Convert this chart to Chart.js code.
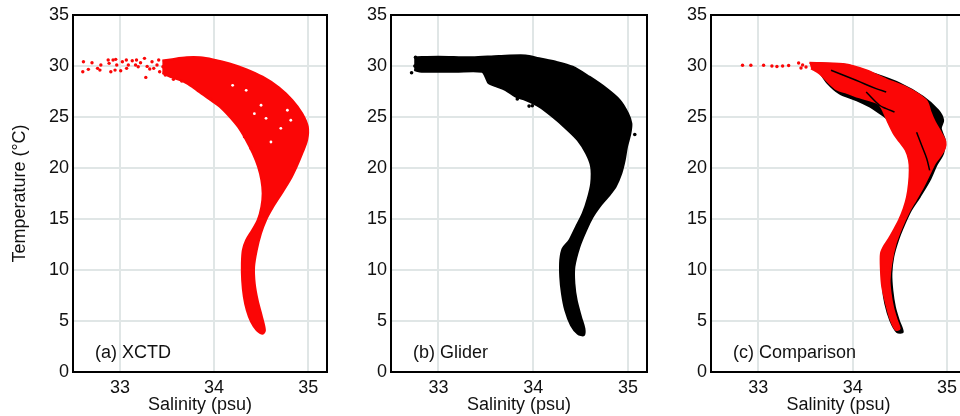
<!DOCTYPE html>
<html lang="en">
<head>
    <meta charset="UTF-8" />
    <title>T-S diagrams</title>
    <script src="https://cdn.jsdelivr.net/npm/chart.js"></script>
    <style>
        body { margin: 0; background: #fff; }
        #wrap { position: relative; width: 960px; height: 416px; overflow: hidden; }
        #wrap canvas { position: absolute; top: 0; }
    </style>
</head>
<body>
<div id="wrap">
    <canvas id="chartA" width="340" height="416" style="left:0"></canvas>
    <canvas id="chartB" width="320" height="416" style="left:340px"></canvas>
    <canvas id="chartC" width="320" height="416" style="left:660px"></canvas>
</div>

<script>
    // axis ticks
    const xTicks = [33, 34, 35];
    const yTicks = [0, 5, 10, 15, 20, 25, 30, 35];

    // (a) XCTD - outline of the dense red cloud [salinity, temperature]
    const xctdOutline = [
        [33.45, 30.55], [33.533, 30.65], [33.709, 30.85], [33.849, 30.85], [33.989, 30.65], [34.165, 30.26],
        [34.340, 29.70], [34.516, 28.95], [34.691, 27.90], [34.832, 26.66], [34.937, 25.35], [34.996, 24.04],
        [34.989, 22.73], [34.937, 21.43], [34.877, 20.12], [34.807, 18.81], [34.719, 17.50], [34.628, 16.19],
        [34.551, 14.88], [34.498, 13.58], [34.453, 11.94], [34.425, 10.30], [34.432, 8.67], [34.463, 7.03],
        [34.509, 5.40], [34.540, 4.09], [34.516, 3.76], [34.453, 4.09], [34.393, 4.91], [34.347, 6.05],
        [34.316, 7.36], [34.298, 9.00], [34.295, 10.63], [34.305, 11.94], [34.340, 12.92], [34.404, 13.90],
        [34.463, 14.88], [34.502, 16.19], [34.516, 17.50], [34.502, 18.81], [34.467, 20.12], [34.411, 21.43],
        [34.340, 22.73], [34.253, 24.04], [34.165, 25.02], [34.060, 26.01], [33.937, 26.82], [33.814, 27.64],
        [33.709, 28.30], [33.604, 28.72], [33.533, 28.95], [33.45, 29.3]
    ];
    // (a) XCTD - scattered casts outside the cloud
    const xctdPoints = [
        [32.611, 30.42], [32.604, 29.44], [32.702, 30.32], [32.663, 29.67], [32.761, 29.77], [32.786, 29.60],
        [32.796, 30.10], [32.874, 30.59], [32.884, 30.26], [32.902, 29.44], [32.926, 30.59], [32.954, 30.65],
        [32.965, 30.10], [32.947, 29.60], [33.007, 29.54], [33.025, 30.42], [33.067, 30.59], [33.070, 29.77],
        [33.088, 30.10], [33.130, 30.52], [33.165, 30.10], [33.175, 30.59], [33.193, 29.93], [33.218, 30.32],
        [33.260, 30.75], [33.274, 28.88], [33.288, 29.96], [33.316, 29.70], [33.340, 30.42], [33.358, 29.77],
        [33.393, 30.10], [33.411, 30.59], [33.421, 29.44], [33.456, 29.93], [33.481, 29.11], [33.568, 28.69],
        [33.656, 28.52], [33.961, 26.79], [34.323, 23.06], [34.393, 21.92]
    ];
    // (a) XCTD - small empty gaps inside the cloud
    const xctdGaps = [
        [34.341, 27.62], [34.499, 26.15], [34.428, 25.33], [34.779, 25.66], [34.815, 24.68], [34.709, 23.89],
        [34.604, 22.55], [34.552, 24.87], [34.197, 28.11]
    ];

    // (b) Glider
    const gliderOutline = [
        [32.745, 30.85], [33.000, 30.91], [33.354, 30.85], [33.637, 30.98], [33.920, 31.04], [34.062, 30.75],
        [34.239, 30.42], [34.416, 29.93], [34.593, 28.95], [34.770, 27.81], [34.912, 26.66], [35.000, 25.35],
        [35.035, 24.37], [35.025, 23.39], [34.989, 22.08], [34.965, 20.77], [34.929, 19.46], [34.869, 18.16],
        [34.788, 17.17], [34.699, 16.19], [34.628, 15.21], [34.558, 13.90], [34.487, 12.27], [34.434, 10.30],
        [34.434, 8.67], [34.458, 7.03], [34.504, 5.40], [34.540, 4.25], [34.533, 3.60], [34.469, 3.76],
        [34.398, 4.58], [34.338, 6.05], [34.303, 7.69], [34.285, 9.32], [34.285, 10.96], [34.310, 12.10],
        [34.381, 12.92], [34.451, 14.23], [34.522, 15.54], [34.575, 17.01], [34.611, 18.48], [34.611, 20.12],
        [34.558, 21.43], [34.469, 22.73], [34.345, 23.88], [34.204, 25.02], [34.062, 26.01], [33.920, 26.66],
        [33.814, 26.99], [33.708, 27.64], [33.602, 28.03], [33.531, 28.30], [33.496, 28.95], [33.460, 29.44],
        [33.177, 29.44], [32.823, 29.44], [32.745, 29.60]
    ];
    const gliderPoints = [
        [32.717, 29.34], [32.752, 30.00], [32.759, 30.85], [33.832, 26.76], [33.956, 26.07], [33.990, 26.10],
        [35.071, 23.29]
    ];

    // (c) Comparison
    const cmpGliderOutline = [
        [33.612, 30.26], [33.931, 30.10], [34.214, 29.28], [34.497, 28.30], [34.745, 26.99], [34.904, 25.68],
        [34.958, 24.70], [34.933, 23.88], [34.975, 22.73], [34.958, 21.43], [34.887, 20.28], [34.816, 18.81],
        [34.710, 17.17], [34.618, 15.87], [34.543, 14.39], [34.480, 12.92], [34.430, 11.29], [34.410, 9.65],
        [34.420, 8.01], [34.447, 6.38], [34.488, 5.07], [34.530, 3.93], [34.469, 3.93], [34.398, 5.07],
        [34.345, 6.71], [34.320, 8.34], [34.320, 9.98], [34.345, 11.61], [34.398, 12.92], [34.469, 14.23],
        [34.540, 15.54], [34.596, 17.17], [34.632, 18.81], [34.660, 20.44], [34.632, 21.75], [34.550, 23.06],
        [34.427, 24.37], [34.214, 25.84], [34.037, 26.66], [33.860, 27.31], [33.736, 28.30], [33.648, 29.44]
    ];
    const cmpXctdOutline = [
        [33.542, 30.32], [33.896, 30.19], [34.143, 29.60], [34.356, 28.69], [34.568, 27.90], [34.710, 27.15],
        [34.788, 26.50], [34.823, 25.52], [34.869, 24.53], [34.940, 23.39], [34.982, 22.57], [34.975, 21.92],
        [34.922, 21.10], [34.869, 20.44], [34.809, 19.30], [34.738, 17.99], [34.667, 16.85], [34.596, 15.70],
        [34.522, 14.23], [34.455, 12.59], [34.409, 10.63], [34.391, 9.00], [34.402, 7.69], [34.427, 6.38],
        [34.462, 5.23], [34.497, 4.25], [34.455, 4.15], [34.398, 5.23], [34.349, 6.87], [34.313, 8.34],
        [34.299, 9.98], [34.299, 11.61], [34.331, 12.33], [34.384, 13.08], [34.434, 13.90], [34.490, 14.88],
        [34.540, 16.03], [34.575, 17.17], [34.596, 18.48], [34.604, 19.79], [34.596, 20.77], [34.561, 21.75],
        [34.497, 22.57], [34.434, 23.39], [34.373, 24.53], [34.327, 25.52], [34.278, 26.27], [34.196, 26.59],
        [34.073, 26.92], [33.938, 27.38], [33.832, 27.71], [33.736, 28.46], [33.648, 29.28], [33.559, 29.77]
    ];
    const cmpXctdPoints = [
        [32.834, 30.08], [32.922, 30.08], [33.057, 30.08], [33.145, 30.00], [33.198, 29.95], [33.258, 30.00],
        [33.322, 30.05], [33.428, 30.30], [33.453, 29.80], [33.470, 30.10], [33.506, 29.90]
    ];
    // glider profiles showing through the red cloud
    const cmpGliderStreakA = [[33.771, 29.58], [34.036, 28.60], [34.248, 27.78], [34.355, 27.45]];
    const cmpGliderStreakB = [[34.143, 27.45], [34.284, 26.15], [34.355, 25.82], [34.443, 25.49]];
    const cmpGliderStreakC = [[34.677, 23.50], [34.730, 22.23], [34.783, 20.95], [34.815, 19.77]];

    const RED = "#fb0606";
    const BLACK = "#000000";
    const FONT = "'Liberation Sans', Arial, Helvetica, sans-serif";

    const xy = arr => arr.map(p => ({ x: p[0], y: p[1] }));

    function cloud(data, color, order) {
        return {
            type: "line", data: xy(data), fill: "shape", order: order,
            borderColor: color, backgroundColor: color, borderWidth: 2,
            pointRadius: 0, tension: 0.3
        };
    }
    function dots(data, color, r, order) {
        return {
            type: "scatter", data: xy(data), order: order,
            backgroundColor: color, borderWidth: 0, pointRadius: r
        };
    }
    function streak(data, order) {
        return {
            type: "line", data: xy(data), fill: false, order: order,
            borderColor: BLACK, borderWidth: 1.5, pointRadius: 0, tension: 0.4
        };
    }

    // frame around the plot box + panel label
    const framePlugin = {
        id: "frame",
        afterDatasetsDraw(chart, args, opts) {
            const { ctx, chartArea: a } = chart;
            ctx.save();
            ctx.strokeStyle = "#000";
            ctx.lineWidth = 2;
            ctx.strokeRect(a.left, a.top, a.right - a.left, a.bottom - a.top);
            ctx.fillStyle = "#111";
            ctx.font = "18px " + FONT;
            ctx.textBaseline = "middle";
            ctx.fillText(opts.label, a.left + 22, a.bottom - 19);
            ctx.restore();
        }
    };

    function makePanel(id, datasets, label, yWidth, rightPad, showYTitle) {
        const tickFont = { size: 18, family: FONT };
        return new Chart(document.getElementById(id), {
            type: "scatter",
            data: { datasets: datasets },
            plugins: [framePlugin],
            options: {
                responsive: false,
                animation: false,
                layout: { padding: { left: 0, top: 15, right: rightPad, bottom: 0 } },
                plugins: {
                    legend: { display: false },
                    tooltip: { enabled: false },
                    filler: { drawTime: "beforeDatasetDraw" },
                    frame: { label: label }
                },
                scales: {
                    x: {
                        type: "linear", min: 32.5, max: 35.2,
                        afterBuildTicks: s => { s.ticks = xTicks.map(v => ({ value: v })); },
                        afterFit: s => { s.height = 44; },
                        grid: { color: "#e0e6e6", lineWidth: 2, drawTicks: false },
                        border: { display: false },
                        ticks: { padding: 5, color: "#111", font: tickFont },
                        title: { display: true, text: "Salinity (psu)", color: "#111", font: tickFont, padding: { top: 0, bottom: 0 } }
                    },
                    y: {
                        type: "linear", min: 0, max: 35,
                        afterBuildTicks: s => { s.ticks = yTicks.map(v => ({ value: v })); },
                        afterFit: s => { s.width = yWidth; },
                        grid: { color: "#e0e6e6", lineWidth: 2, drawTicks: false },
                        border: { display: false },
                        ticks: { padding: 4, color: "#111", font: tickFont },
                        title: { display: showYTitle, text: "Temperature (°C)", color: "#111", font: tickFont, padding: { top: 9, bottom: 0 } }
                    }
                }
            }
        });
    }

    makePanel("chartA", [
        cloud(xctdOutline, RED, 3),
        dots(xctdGaps, "#ffffff", 1.4, 2),
        dots(xctdPoints, RED, 1.7, 1)
    ], "(a) XCTD", 73, 13, true);

    makePanel("chartB", [
        cloud(gliderOutline, BLACK, 2),
        dots(gliderPoints, BLACK, 1.8, 1)
    ], "(b) Glider", 51, 13, false);

    makePanel("chartC", [
        cloud(cmpGliderOutline, BLACK, 5),
        cloud(cmpXctdOutline, RED, 4),
        dots(cmpXctdPoints, RED, 1.7, 3),
        streak(cmpGliderStreakA, 2),
        streak(cmpGliderStreakB, 2),
        streak(cmpGliderStreakC, 2)
    ], "(c) Comparison", 51, 14, false);
</script>
</body>
</html>
